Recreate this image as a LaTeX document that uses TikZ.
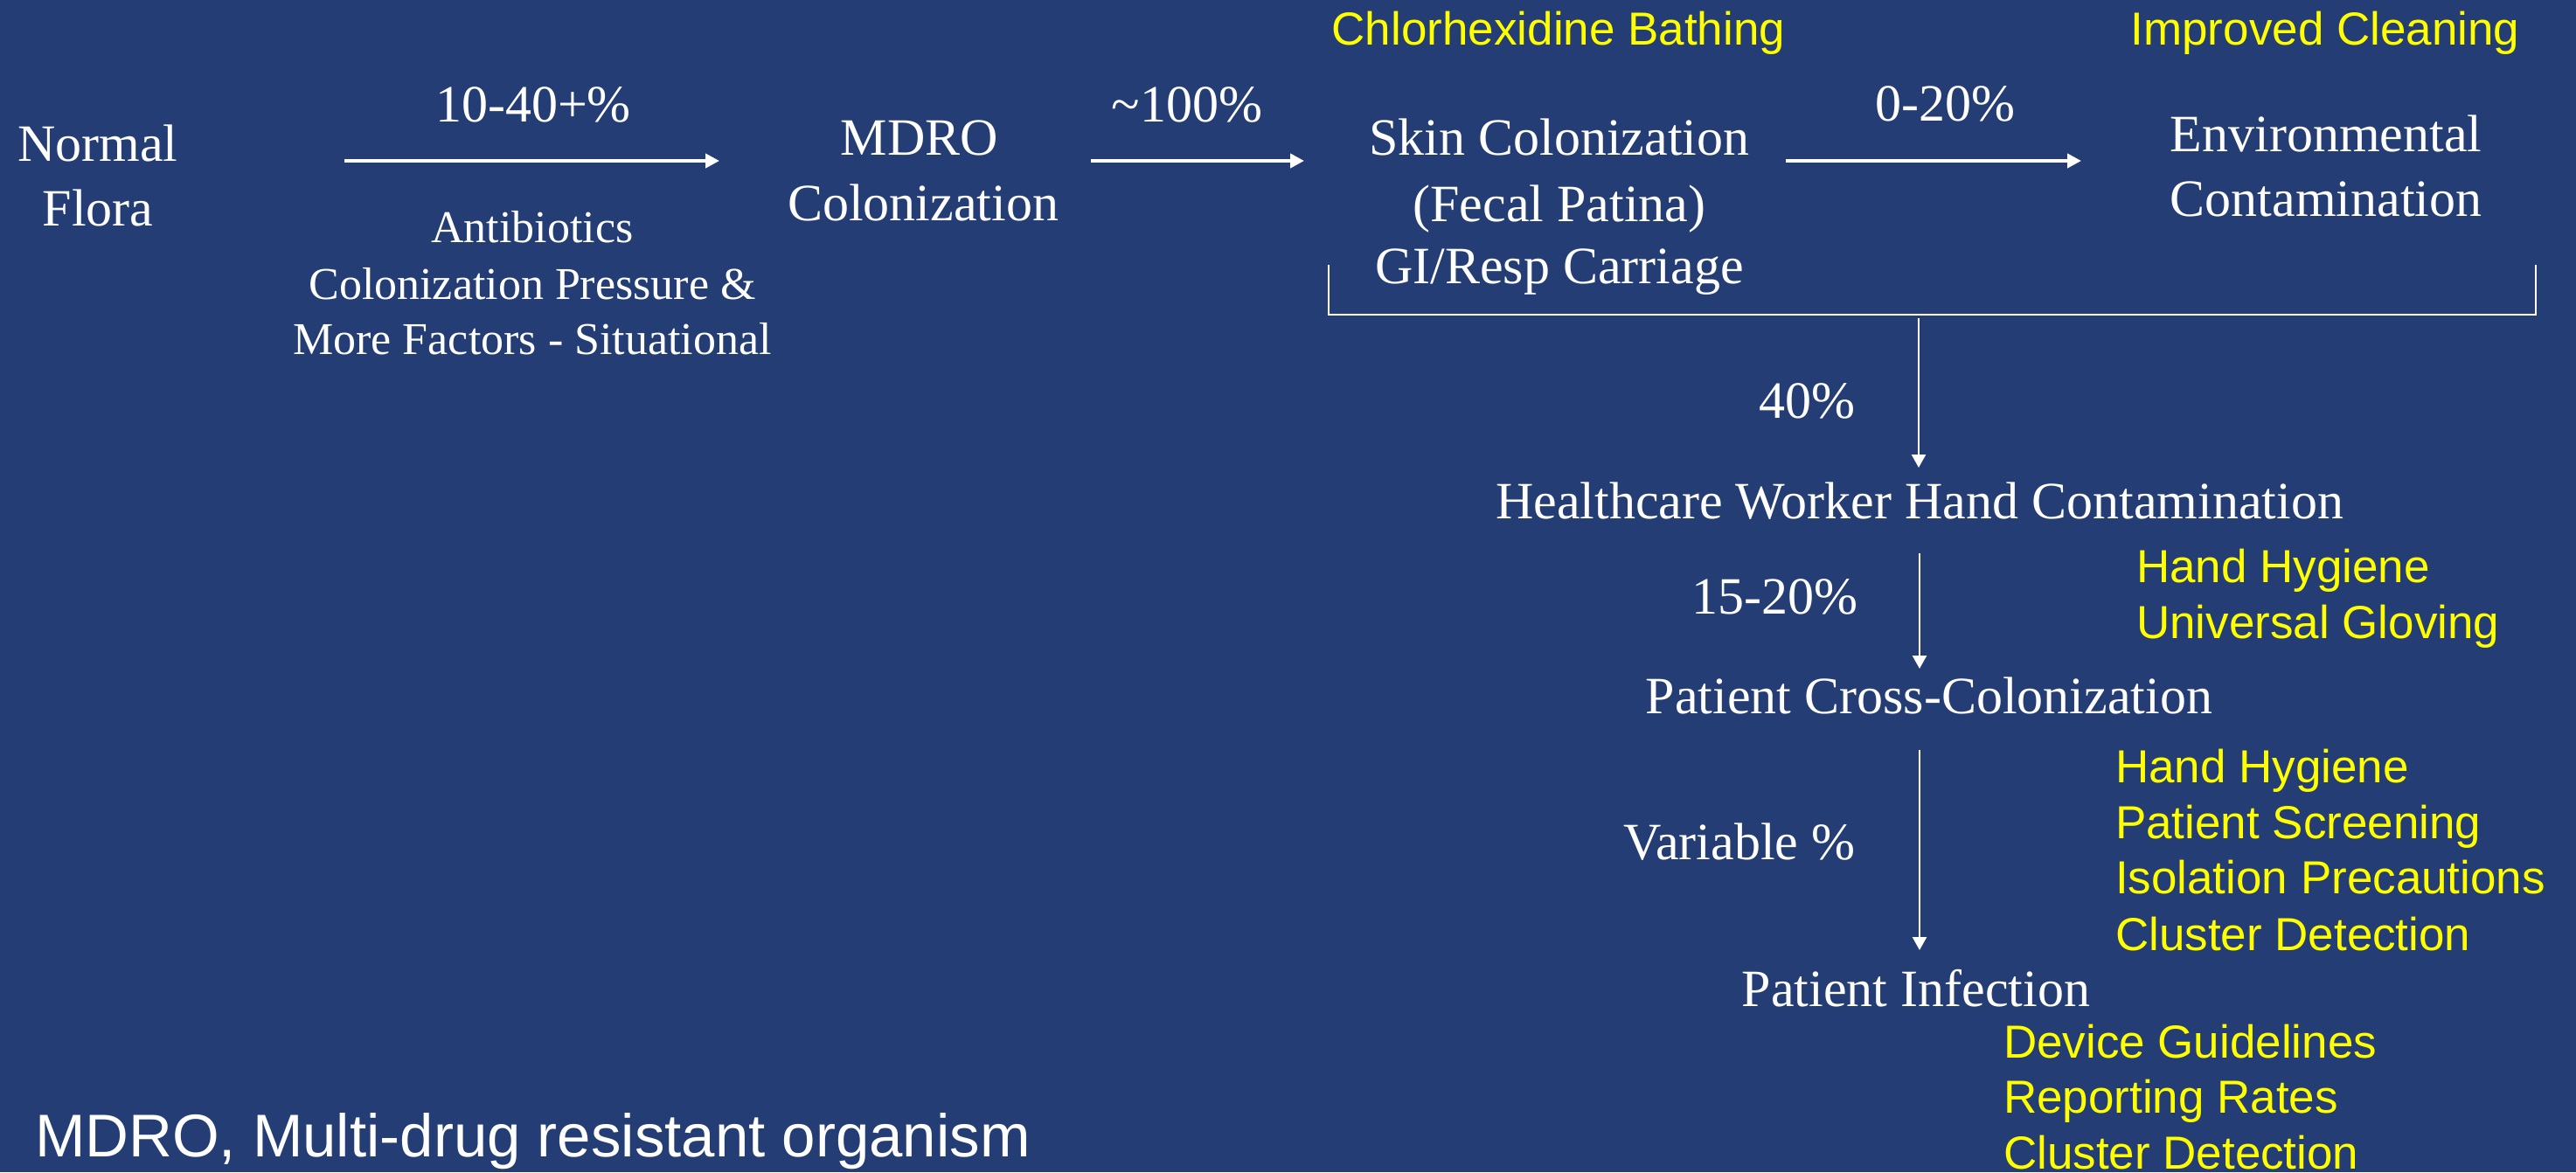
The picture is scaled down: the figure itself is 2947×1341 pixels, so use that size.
\documentclass[tikz,border=0pt]{standalone}
\usepackage{fontspec}
\setmainfont{Liberation Serif}
\newfontfamily\yfont{Liberation Sans}
\usetikzlibrary{arrows.meta}
\definecolor{bgblue}{RGB}{36,61,117}
\definecolor{hlyellow}{RGB}{255,255,0}
\begin{document}
\begin{tikzpicture}[x=0.5pt,y=-0.5pt,
  every node/.style={inner sep=0pt,outer sep=0pt},
  wt/.style={text=white,font=\fontsize{30}{36}\selectfont,anchor=base},
  wtsmall/.style={text=white,font=\fontsize{26}{31}\selectfont,anchor=base},
  yl/.style={text=hlyellow,font=\yfont\fontsize{26.5}{32}\selectfont,anchor=base west},
  yc/.style={text=hlyellow,font=\yfont\fontsize{26.5}{32}\selectfont,anchor=base},
  harrow/.style={draw=white,line width=2pt,-{Triangle[length=8pt,width=8pt]}},
  varrow/.style={draw=white,line width=1.25pt,-{Triangle[length=7.5pt,width=8pt]}},
  brace/.style={draw=white,line width=1.25pt}]
\fill[bgblue] (0,0) rectangle (2947,1341);
\useasboundingbox (0,0) rectangle (2947,1341);

% main white nodes
\node[wt] (normal) at (112,184) {Normal};
\node[wt] (flora) at (112,258) {Flora};
\node[wt] (p1) at (610,139) {10-40+\%};
\node[wtsmall] (f1) at (609,277) {Antibiotics};
\node[wtsmall] (f2) at (609,342) {Colonization Pressure \&};
\node[wtsmall] (f3) at (609,405) {More Factors - Situational};
\node[wt] (mdro) at (1052,177) {MDRO};
\node[wt] (mdrocol) at (1056,252) {Colonization};
\node[wt] (p2) at (1358,139) {{\char"7E}100\%};
\node[wt] (skin1) at (1784,177) {Skin Colonization};
\node[wt] (skin2) at (1784,253) {(Fecal Patina)};
\node[wt] (skin3) at (1784,324) {GI/Resp Carriage};
\node[wt] (p3) at (2225,138) {0-20\%};
\node[wt] (env1) at (2661,173) {Environmental};
\node[wt] (env2) at (2661,247) {Contamination};
\node[wt] (p4) at (2067,478) {40\%};
\node[wt] (hcw) at (2196,593) {Healthcare Worker Hand Contamination};
\node[wt] (p5) at (2030,702) {15-20\%};
\node[wt] (cross) at (2207,816) {Patient Cross-Colonization};
\node[wt] (p6) at (1990,983) {Variable \%};
\node[wt] (inf) at (2192,1151) {Patient Infection};

% yellow interventions
\node[yc] (chg) at (1783,51) {Chlorhexidine Bathing};
\node[yc] (clean) at (2660,51) {Improved Cleaning};
\node[yl] (hh1) at (2444,666) {Hand Hygiene};
\node[yl] (ug) at (2444,730) {Universal Gloving};
\node[yl] (hh2) at (2420,895) {Hand Hygiene};
\node[yl] (ps) at (2420,959) {Patient Screening};
\node[yl] (ip) at (2420,1022) {Isolation Precautions};
\node[yl] (cd1) at (2420,1087) {Cluster Detection};
\node[yl] (dg) at (2292,1210) {Device Guidelines};
\node[yl] (rr) at (2292,1273) {Reporting Rates};
\node[yl] (cd2) at (2292,1337) {Cluster Detection};

% footnote
\node[text=white,font=\yfont\fontsize{34.5}{41}\selectfont,anchor=base west] (note) at (40,1323) {MDRO, Multi-drug resistant organism};

% arrow end points
\coordinate (a1s) at (394,184);  \coordinate (a1e) at (823,184);
\coordinate (a2s) at (1248,184); \coordinate (a2e) at (1492,184);
\coordinate (a3s) at (2043,184); \coordinate (a3e) at (2381,184);
\coordinate (bl) at (1520,303);  \coordinate (blb) at (1520,360);
\coordinate (brb) at (2901,360); \coordinate (br) at (2901,303);
\coordinate (v1s) at (2195,364); \coordinate (v1e) at (2195,535);
\coordinate (v2s) at (2196,633); \coordinate (v2e) at (2196,765);
\coordinate (v3s) at (2196,858); \coordinate (v3e) at (2196,1087);

\draw[harrow] (a1s) -- (a1e);
\draw[harrow] (a2s) -- (a2e);
\draw[harrow] (a3s) -- (a3e);
\draw[brace] (bl) -- (blb) -- (brb) -- (br);
\draw[varrow] (v1s) -- (v1e);
\draw[varrow] (v2s) -- (v2e);
\draw[varrow] (v3s) -- (v3e);
\end{tikzpicture}
\end{document}
